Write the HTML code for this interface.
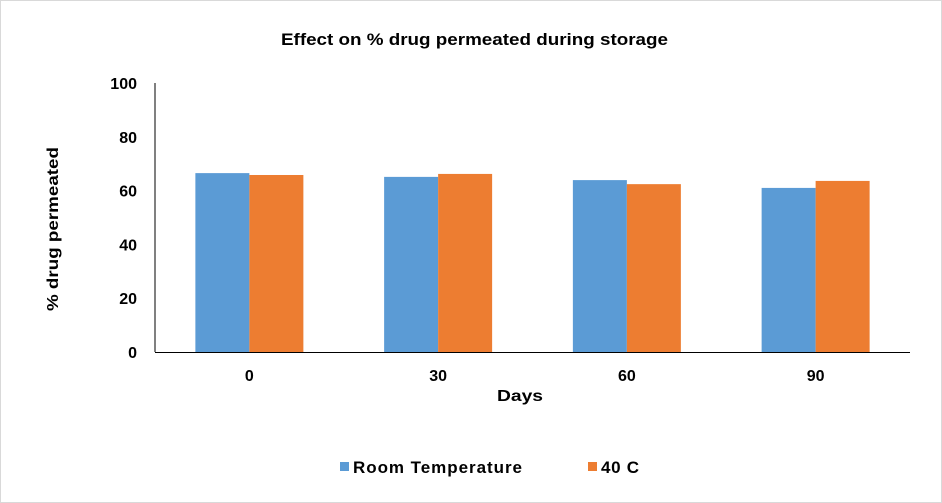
<!DOCTYPE html>
<html><head><meta charset="utf-8"><style>
body{margin:0;background:#fff;font-family:"Liberation Sans",Arial,sans-serif}
#c{position:absolute;left:0;top:0;width:942px;height:503px}
</style></head><body>
<svg id="c" width="942" height="503">
<rect x="0.5" y="0.5" width="941" height="502" fill="#fff" stroke="#d9d9d9"/>
<text x="281" y="45" textLength="387" lengthAdjust="spacingAndGlyphs" font-size="17" font-weight="bold">Effect on % drug permeated during storage</text>
<text transform="translate(58,229) rotate(-90)" text-anchor="middle" textLength="164" lengthAdjust="spacingAndGlyphs" font-size="16" font-weight="bold">% drug permeated</text>
<text x="520" y="401" text-anchor="middle" textLength="46" lengthAdjust="spacingAndGlyphs" font-size="16" font-weight="bold">Days</text>
<g id="plot"></g>
<rect x="340" y="462" width="9" height="9" fill="#5b9bd5"/>
<text x="353" y="473" textLength="169" lengthAdjust="spacing" font-size="17" font-weight="bold">Room Temperature</text>
<rect x="588" y="462" width="9" height="9" fill="#ed7d31"/>
<text x="601" y="473" textLength="38" lengthAdjust="spacing" font-size="17" font-weight="bold">40 C</text>
</svg>
<script>
const categories=["0","30","60","90"];
const roomTemp=[66.5,65.1,63.9,61.0];
const temp40=[65.8,66.2,62.4,63.6];
const yTicks=[0,20,40,60,80,100];
const NS="http://www.w3.org/2000/svg";
const g=document.getElementById("plot");
const x0=155,x1=910,yb=352,yt=83;
const y=v=>yb-(v/100)*(yb-yt);
const band=(x1-x0)/categories.length;
function el(t,a){const e=document.createElementNS(NS,t);for(const k in a)e.setAttribute(k,a[k]);g.appendChild(e);return e;}
yTicks.forEach(t=>{
 const tx=el("text",{x:137,y:y(t)+6,"text-anchor":"end","font-size":16,"font-weight":"bold"});
 tx.textContent=t;
 
 
});
const bw=54;
categories.forEach((c,i)=>{
 const cx=x0+band*(i+0.5);
 const b1=el("rect",{x:cx-bw,y:y(roomTemp[i]),width:bw,height:yb-y(roomTemp[i]),fill:"#5b9bd5"});
 
 
 const b2=el("rect",{x:cx,y:y(temp40[i]),width:bw,height:yb-y(temp40[i]),fill:"#ed7d31"});
 
 
 const t=el("text",{x:cx,y:yb+29,"text-anchor":"middle","font-size":16,"font-weight":"bold"});
 t.textContent=c;
 
 
});
const ax=el("line",{x1:x0,y1:yt,x2:x0,y2:yb,stroke:"#000","stroke-width":1});


const bx=el("line",{x1:x0,y1:yb+0.5,x2:x1,y2:yb+0.5,stroke:"#000","stroke-width":1});


</script>
</body></html>
